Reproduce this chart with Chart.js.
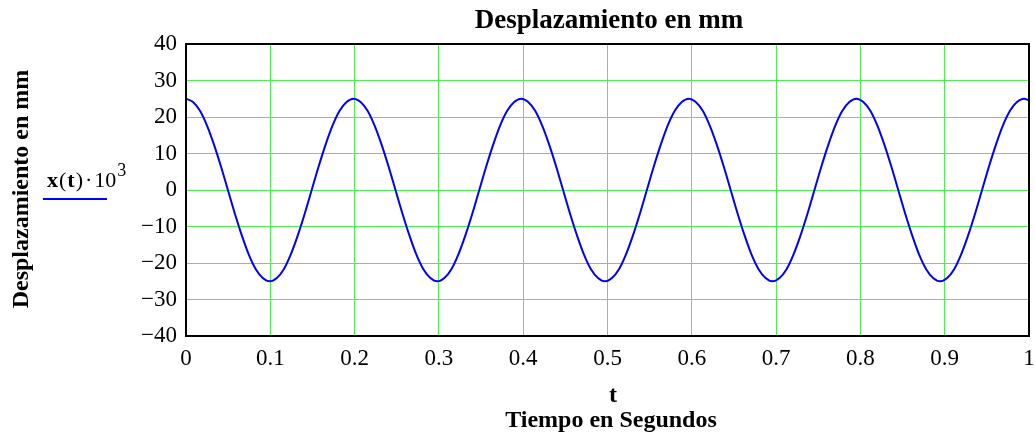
<!DOCTYPE html>
<html>
<head>
<meta charset="utf-8">
<script src="https://cdn.jsdelivr.net/npm/chart.js@4/dist/chart.umd.min.js"></script>
<style>
  html, body { margin: 0; padding: 0; background: #fff; }
  #chart { display: block; }
</style>
</head>
<body>
<canvas id="chart" width="1035" height="434"></canvas>
<script>
// data (t in s, displacement in mm)
const timeValues = [
  0, 0.0083, 0.0166, 0.0248, 0.0331, 0.0414, 0.0497, 0.0580, 0.0663, 0.0745, 0.0828, 0.0911,
  0.0994, 0.1077, 0.1160, 0.1242, 0.1325, 0.1408, 0.1491, 0.1574, 0.1657, 0.1739, 0.1822, 0.1905,
  0.1988, 0.2071, 0.2154, 0.2236, 0.2319, 0.2402, 0.2485, 0.2568, 0.2651, 0.2733, 0.2816, 0.2899,
  0.2982, 0.3065, 0.3148, 0.3230, 0.3313, 0.3396, 0.3479, 0.3562, 0.3645, 0.3727, 0.3810, 0.3893,
  0.3976, 0.4059, 0.4142, 0.4224, 0.4307, 0.4390, 0.4473, 0.4556, 0.4639, 0.4721, 0.4804, 0.4887,
  0.4970, 0.5053, 0.5136, 0.5218, 0.5301, 0.5384, 0.5467, 0.5550, 0.5633, 0.5715, 0.5798, 0.5881,
  0.5964, 0.6047, 0.6130, 0.6212, 0.6295, 0.6378, 0.6461, 0.6544, 0.6627, 0.6709, 0.6792, 0.6875,
  0.6958, 0.7041, 0.7124, 0.7206, 0.7289, 0.7372, 0.7455, 0.7538, 0.7621, 0.7703, 0.7786, 0.7869,
  0.7952, 0.8035, 0.8118, 0.8200, 0.8283, 0.8366, 0.8449, 0.8532, 0.8615, 0.8697, 0.8780, 0.8863,
  0.8946, 0.9029, 0.9112, 0.9194, 0.9277, 0.9360, 0.9443, 0.9526, 0.9609, 0.9691, 0.9774, 0.9857,
  0.9940, 1.0
];
const dispValues = [
  25, 24.1, 21.7, 17.7, 12.5, 6.5, 0, -6.5, -12.5, -17.7, -21.7, -24.1,
  -25, -24.1, -21.7, -17.7, -12.5, -6.5, 0, 6.5, 12.5, 17.7, 21.7, 24.1,
  25, 24.1, 21.7, 17.7, 12.5, 6.5, 0, -6.5, -12.5, -17.7, -21.7, -24.1,
  -25, -24.1, -21.7, -17.7, -12.5, -6.5, 0, 6.5, 12.5, 17.7, 21.7, 24.1,
  25, 24.1, 21.7, 17.7, 12.5, 6.5, 0, -6.5, -12.5, -17.7, -21.7, -24.1,
  -25, -24.1, -21.7, -17.7, -12.5, -6.5, 0, 6.5, 12.5, 17.7, 21.7, 24.1,
  25, 24.1, 21.7, 17.7, 12.5, 6.5, 0, -6.5, -12.5, -17.7, -21.7, -24.1,
  -25, -24.1, -21.7, -17.7, -12.5, -6.5, 0, 6.5, 12.5, 17.7, 21.7, 24.1,
  25, 24.1, 21.7, 17.7, 12.5, 6.5, 0, -6.5, -12.5, -17.7, -21.7, -24.1,
  -25, -24.1, -21.7, -17.7, -12.5, -6.5, 0, 6.5, 12.5, 17.7, 21.7, 24.1,
  25, 24.6
];
const xTicks = [0, 0.1, 0.2, 0.3, 0.4, 0.5, 0.6, 0.7, 0.8, 0.9, 1];
const yTicks = [-40, -30, -20, -10, 0, 10, 20, 30, 40];

const chartTitle = "Desplazamiento en mm";
const yTitle = "Desplazamiento en mm";
const xTitle1 = "t";
const xTitle2 = "Tiempo en Segundos";

const SERIF = "'Liberation Serif', 'Times New Roman', serif";
const GRID = "#4cf04c";

// frame, titles and the mathcad style legend
const decorations = {
  id: "decorations",
  afterDraw(chart) {
    const ctx = chart.ctx;
    const a = chart.chartArea;
    ctx.save();
    ctx.strokeStyle = "#000";
    ctx.lineWidth = 2;
    ctx.strokeRect(a.left, a.top, a.right - a.left, a.bottom - a.top);

    ctx.fillStyle = "#000";
    ctx.textAlign = "center";
    ctx.textBaseline = "alphabetic";
    ctx.font = "bold 27px " + SERIF;
    ctx.fillText(chartTitle, 609, 28);

    ctx.font = "bold 24px " + SERIF;
    ctx.fillText(xTitle1, 613, 402);
    ctx.fillText(xTitle2, 611, 427);

    ctx.save();
    ctx.translate(28, 189);
    ctx.rotate(-Math.PI / 2);
    ctx.font = "bold 24px " + SERIF;
    ctx.fillText(yTitle, 0, 0);
    ctx.restore();

    // legend: x(t)·10^3 with line sample below
    ctx.textAlign = "left";
    let x = 47;
    const y = 187;
    const parts = [
      ["bold 22px ", "x", 1], ["22px ", "(", 1], ["bold 22px ", "t", 1], ["22px ", ")", 2],
      ["22px ", "\u00b7", 2], ["22px ", "10", 1]
    ];
    parts.forEach(p => {
      ctx.font = p[0] + SERIF;
      ctx.fillText(p[1], x, y);
      x += ctx.measureText(p[1]).width + p[2];
    });
    ctx.font = "18px " + SERIF;
    ctx.fillText("3", x, y - 11);

    ctx.strokeStyle = "#0000ff";
    ctx.lineWidth = 2;
    ctx.beginPath();
    ctx.moveTo(43, 199);
    ctx.lineTo(107, 199);
    ctx.stroke();
    ctx.restore();
  }
};

const points = timeValues.map((t, i) => ({ x: t, y: dispValues[i] }));

new Chart(document.getElementById("chart"), {
  type: "line",
  data: {
    datasets: [{
      label: "x(t)·10³",
      data: points,
      borderColor: "#0000ff",
      borderWidth: 2,
      pointRadius: 0,
      fill: false,
      cubicInterpolationMode: "monotone"
    }]
  },
  options: {
    responsive: false,
    animation: false,
    layout: { padding: { left: 0, top: 44, right: 6, bottom: 0 } },
    plugins: { legend: { display: false }, title: { display: false }, tooltip: { enabled: false } },
    scales: {
      x: {
        type: "linear",
        min: 0,
        max: 1,
        afterBuildTicks: s => { s.ticks = xTicks.map(v => ({ value: v })); },
        afterFit: s => { s.height = 98; s.paddingLeft = 0; s.paddingRight = 0; },
        grid: { color: GRID, lineWidth: 1, drawTicks: false },
        border: { display: false },
        ticks: {
          color: "#000",
          padding: 9,
          maxRotation: 0,
          font: { family: SERIF, size: 23 },
          callback: v => String(Math.round(v * 10) / 10)
        }
      },
      y: {
        min: -40,
        max: 40,
        afterBuildTicks: s => { s.ticks = yTicks.map(v => ({ value: v })); },
        afterFit: s => { s.width = 186; s.paddingTop = 0; s.paddingBottom = 0; },
        grid: { color: GRID, lineWidth: 1, drawTicks: false },
        border: { display: false },
        ticks: {
          color: "#000",
          padding: 9,
          font: { family: SERIF, size: 23 },
          callback: v => (v < 0 ? "\u2212" + Math.abs(v) : String(v))
        }
      }
    }
  },
  plugins: [decorations]
});
</script>
</body>
</html>
